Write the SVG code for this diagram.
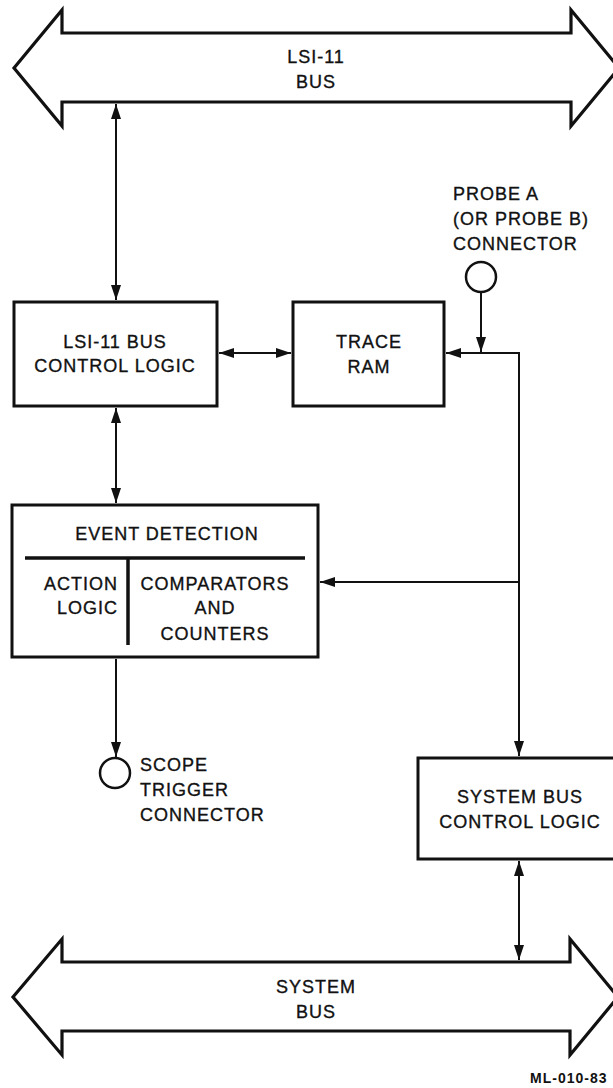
<svg xmlns="http://www.w3.org/2000/svg" width="613" height="1088" viewBox="0 0 613 1088">
  <style>
    .box { fill: #fff; stroke: #111; stroke-width: 3; }
    .bus { fill: #fff; stroke: #111; stroke-width: 3.2; stroke-linejoin: miter; }
    .ln { fill: none; stroke: #111; stroke-width: 2; }
    .div { fill: none; stroke: #111; stroke-width: 3.5; }
    text { font-family: "Liberation Sans", Arial, sans-serif; font-size: 18px; fill: #111; stroke: #111; stroke-width: 0.35px; letter-spacing: 1px; }
    .c { text-anchor: middle; }
    .r { text-anchor: end; }
    .ml { font-size: 14px; font-weight: bold; letter-spacing: 1px; stroke-width: 0; }
  </style>
  <defs>
    <marker id="ah" viewBox="0 0 15 10" refX="15" refY="5" markerWidth="15" markerHeight="10" orient="auto-start-reverse" markerUnits="userSpaceOnUse">
      <path d="M0,0 L15,5 L0,10 z" fill="#111"/>
    </marker>
  </defs>
  <rect width="613" height="1088" fill="#fff"/>

  <g id="lsi11-bus">
    <polygon class="bus" points="14,68 62,10 62,33 571,33 571,10 619,68 571,126 571,102 62,102 62,126"/>
    <text class="c" x="316" y="63">LSI-11</text>
    <text class="c" x="316" y="88">BUS</text>
  </g>

  <g id="lsi11-bus-control-logic">
    <rect class="box" x="14" y="302" width="203" height="104"/>
    <text class="c" x="115" y="348">LSI-11 BUS</text>
    <text class="c" x="115" y="372">CONTROL LOGIC</text>
  </g>

  <g id="trace-ram">
    <rect class="box" x="293" y="302" width="151" height="104"/>
    <text class="c" x="369" y="348">TRACE</text>
    <text class="c" x="369" y="373">RAM</text>
  </g>

  <g id="probe-connector">
    <circle cx="481" cy="277" r="15" fill="#fff" stroke="#111" stroke-width="2.5"/>
    <text x="453" y="200">PROBE A</text>
    <text x="453" y="225">(OR PROBE B)</text>
    <text x="453" y="250">CONNECTOR</text>
  </g>

  <g id="event-detection">
    <rect class="box" x="12" y="505" width="306" height="152"/>
    <text class="c" x="167" y="540">EVENT DETECTION</text>
    <line class="div" x1="25" y1="558" x2="305" y2="558"/>
    <line class="div" x1="128" y1="558" x2="128" y2="645"/>
    <text class="r" x="118" y="590">ACTION</text>
    <text class="r" x="118" y="614">LOGIC</text>
    <text class="c" x="215" y="590">COMPARATORS</text>
    <text class="c" x="215" y="614">AND</text>
    <text class="c" x="215" y="640">COUNTERS</text>
  </g>

  <g id="scope-trigger-connector">
    <circle cx="115" cy="773" r="15" fill="#fff" stroke="#111" stroke-width="2.5"/>
    <text x="140" y="771">SCOPE</text>
    <text x="140" y="796">TRIGGER</text>
    <text x="140" y="821">CONNECTOR</text>
  </g>

  <g id="system-bus-control-logic">
    <rect class="box" x="418" y="758" width="200" height="101"/>
    <text class="c" x="520" y="803">SYSTEM BUS</text>
    <text class="c" x="520" y="828">CONTROL LOGIC</text>
  </g>

  <g id="system-bus">
    <polygon class="bus" points="13,997 62,939 62,962 570,962 570,939 618,997 570,1055 570,1031 62,1031 62,1055"/>
    <text class="c" x="316" y="993">SYSTEM</text>
    <text class="c" x="316" y="1018">BUS</text>
  </g>

  <g id="connectors">
    <path class="ln" d="M116,104 L116,300" marker-start="url(#ah)" marker-end="url(#ah)"/>
    <path class="ln" d="M219,353 L291,353" marker-start="url(#ah)" marker-end="url(#ah)"/>
    <path class="ln" d="M116,408 L116,503" marker-start="url(#ah)" marker-end="url(#ah)"/>
    <path class="ln" d="M481,292 L481,352" marker-end="url(#ah)"/>
    <path class="ln" d="M519,353 L446,353" marker-end="url(#ah)"/>
    <path class="ln" d="M519,352 L519,756" marker-end="url(#ah)"/>
    <path class="ln" d="M519,582 L320,582" marker-end="url(#ah)"/>
    <path class="ln" d="M116,659 L116,757" marker-end="url(#ah)"/>
    <path class="ln" d="M519,861 L519,960" marker-start="url(#ah)" marker-end="url(#ah)"/>
  </g>

  <text class="ml" x="530" y="1083">ML-010-83</text>
</svg>
